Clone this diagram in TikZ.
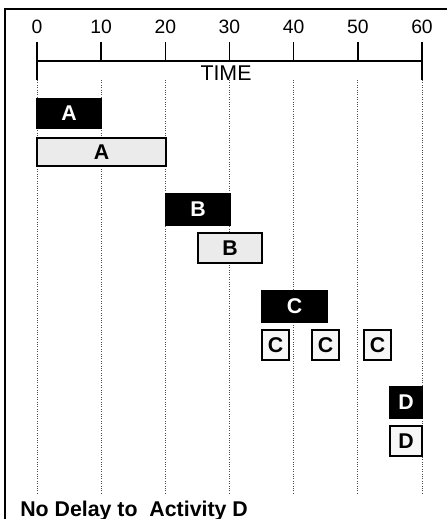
\documentclass[tikz,border=0pt]{standalone}
\usepackage{fontspec}
\setmainfont{Liberation Sans}
\newcommand{\barnode}[7]{%
  \pgfmathsetmacro{\bcx}{(#3+#5)/2}%
  \pgfmathsetmacro{\bcy}{(#4+#6)/2}%
  \pgfmathsetmacro{\bw}{(#5-#3)*0.75}%
  \pgfmathsetmacro{\bh}{(#6-#4)*0.75}%
  \node[#2, minimum width=\bw pt, minimum height=\bh pt] (#1) at (\bcx,\bcy) {#7};}
\begin{document}
\begin{tikzpicture}[x=0.75pt,y=-0.75pt,
  barfont/.style={font=\fontsize{16}{16}\selectfont\bfseries},
  darkbar/.style={draw=black, fill=black, text=white, line width=1.2pt, inner sep=0pt, outer sep=0pt, barfont},
  lightbar/.style={draw=black, fill=black!8, text=black, line width=1.5pt, inner sep=0pt, outer sep=0pt, barfont},
  smallbox/.style={draw=black, fill=black!3, text=black, line width=1.5pt, inner sep=0pt, outer sep=0pt, barfont},
  grid/.style={draw=black!70, line width=0.6pt, dash pattern=on 0.7pt off 1.1pt},
  tick/.style={draw=black, line width=1.1pt},
  numlabel/.style={font=\fontsize{14.5}{15}\selectfont, inner sep=0pt}]
\useasboundingbox (0,0) rectangle (447,519);
% frame
\coordinate (fbl) at (5,519);
\coordinate (ftl) at (5,9);
\coordinate (ftr) at (447,9);
\draw[line width=1.8pt] (fbl) -- (ftl) -- (ftr);
% grid lines and ticks
\foreach \t in {0,10,...,60}{
  \pgfmathsetmacro{\xx}{37+6.4167*\t}
  \coordinate (gtop\t) at (\xx,80);
  \coordinate (gbot\t) at (\xx,493);
  \coordinate (ttop\t) at (\xx,42);
  \coordinate (tbot\t) at (\xx,61);
  \draw[grid] (gtop\t) -- (gbot\t);
  \node[numlabel, anchor=base] (lab\t) at (\xx,33.5) {\t};
}
\foreach \t in {10,20,30,40,50}{\draw[tick] (ttop\t) -- (tbot\t);}
\draw[tick] (ttop0) -- (gtop0);
\draw[tick] (ttop60) -- (gtop60);
\draw[tick] (tbot0) -- (tbot60);
\node[font=\fontsize{16}{16}\selectfont, anchor=base, inner sep=0pt] (time) at (226,80.5) {TIME};
% bars
\barnode{a1}{darkbar}{37}{99}{101}{128}{A}
\barnode{a2}{lightbar}{37}{138}{166}{166}{A}
\barnode{b1}{darkbar}{166}{194}{230}{225}{B}
\barnode{b2}{lightbar}{198}{233}{262}{263}{B}
\barnode{c1}{darkbar}{262}{291}{327}{322}{C}
\barnode{c2}{smallbox}{262}{330}{289}{360}{C}
\barnode{c3}{smallbox}{312}{330}{339}{360}{C}
\barnode{c4}{smallbox}{364}{330}{391}{360}{C}
\barnode{d1}{darkbar}{390}{387}{422}{418}{D}
\barnode{d2}{smallbox}{390}{426}{422}{456}{D}
% caption
\node[anchor=base west, inner sep=0pt, font=\fontsize{16}{16}\selectfont\bfseries] (cap) at (20,516) {No Delay to\ \ Activity D};
\end{tikzpicture}
\end{document}
